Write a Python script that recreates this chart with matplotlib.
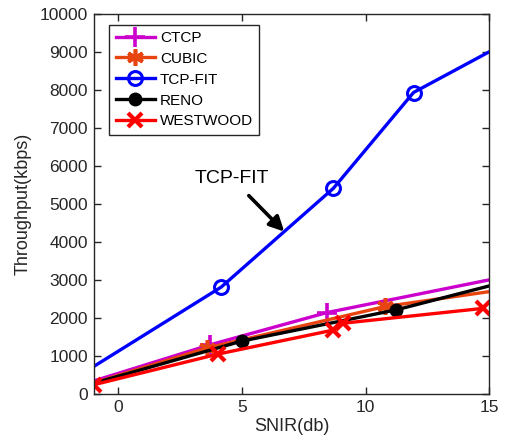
import matplotlib
matplotlib.use("Agg")
import matplotlib.pyplot as plt

plt.rcParams['font.family'] = ['Liberation Sans', 'DejaVu Sans']

# Throughput (kbps) versus SNIR (dB) for each TCP variant
ctcp_x = [-1, 3.7, 8.44, 15]
ctcp_y = [350, 1300, 2150, 3010]
ctcp_marks = [1, 2]

cubic_x = [-1, 3.6, 10.8, 15]
cubic_y = [300, 1220, 2310, 2700]
cubic_marks = [1, 2]

fit_x = [-1, 4.16, 8.7, 11.94, 15]
fit_y = [730, 2820, 5420, 7940, 9010]
fit_marks = [1, 2, 3]

reno_x = [-1, 5.0, 11.23, 15]
reno_y = [290, 1400, 2220, 2850]
reno_marks = [1, 2]

west_x = [-1, 4.05, 8.7, 9.1, 14.75]
west_y = [250, 1060, 1690, 1870, 2260]
west_marks = [0, 1, 2, 3, 4]

x_ticks = [0, 5, 10, 15]
y_ticks = list(range(0, 10001, 1000))

fig = plt.figure(figsize=(5.09, 4.44), dpi=100)
ax = fig.add_axes([0.184, 0.112, 0.777, 0.856])

lw = 2.4
asterisk = (6, 2, 0)
ax.plot(ctcp_x, ctcp_y, color='#cc00cc', lw=lw, marker='+', ms=14, mew=2.6,
        markevery=ctcp_marks, label='CTCP')
ax.plot(cubic_x, cubic_y, color='#e8440f', lw=lw, marker=asterisk, ms=12, mew=2.6,
        markevery=cubic_marks, label='CUBIC')
ax.plot(fit_x, fit_y, color='#0000ff', lw=lw, marker='o', ms=10, mew=2.2,
        mfc='none', markevery=fit_marks, label='TCP-FIT')
ax.plot(reno_x, reno_y, color='black', lw=lw, marker='o', ms=9,
        markevery=reno_marks, label='RENO')
ax.plot(west_x, west_y, color='#ff0000', lw=lw, marker='x', ms=10, mew=3,
        markevery=west_marks, label='WESTWOOD')

ax.annotate('TCP-FIT', xy=(6.71, 4280), xytext=(4.59, 5680),
            fontsize=14, ha='center', va='center',
            arrowprops=dict(arrowstyle='-|>', color='black', lw=2.6,
                            mutation_scale=22, shrinkA=6, shrinkB=0))

ax.set_xlim(-1, 15)
ax.set_ylim(0, 10000)
ax.set_xticks(x_ticks)
ax.set_yticks(y_ticks)
ax.tick_params(direction='in', length=5, width=1, top=True, right=True,
               labelsize=12.5, colors='#262626', pad=4)
for s in ax.spines.values():
    s.set_color('#262626')
    s.set_linewidth(1)

ax.set_xlabel('SNIR(db)', fontsize=13, color='#262626', labelpad=2)
ax.set_ylabel('Throughput(kbps)', fontsize=13, color='#262626', labelpad=6)

leg = ax.legend(loc='upper left', bbox_to_anchor=(0.04, 0.972), fontsize=11,
                handlelength=2.6, handletextpad=0.3, labelspacing=0.45,
                borderpad=0.4, borderaxespad=0, fancybox=False, framealpha=1)
leg.get_frame().set_edgecolor('#262626')
leg.get_frame().set_linewidth(1)

fig.savefig('out.png', dpi=100)
